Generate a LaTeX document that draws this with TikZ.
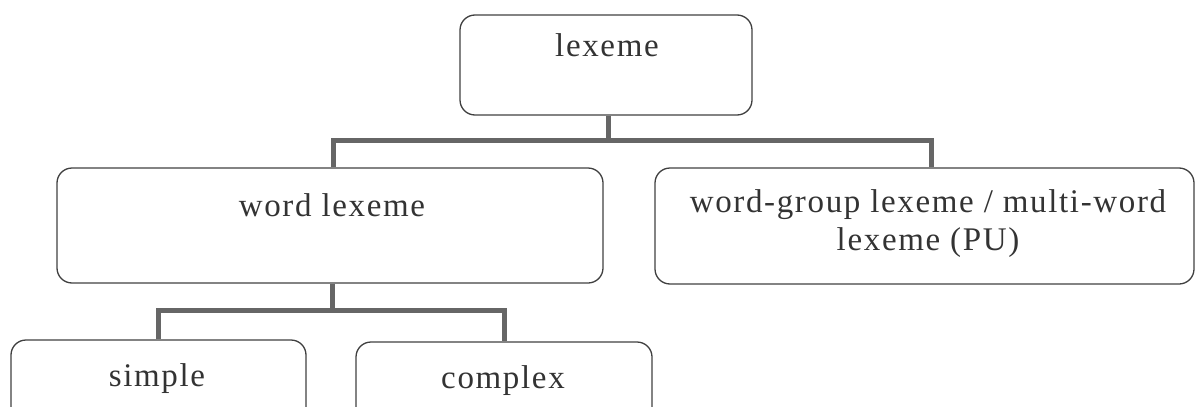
\documentclass[tikz,border=0pt]{standalone}
\usepackage{fontspec}
\setmainfont{Liberation Serif}[LetterSpace=5]
\begin{document}
\begin{tikzpicture}[x=1pt,y=-1pt,
  box/.style={draw=black!75, line width=1.3pt, rounded corners=15pt, inner sep=0pt},
  lbl/.style={inner sep=0pt, font=\fontsize{33}{40}\selectfont, text=black!80, align=center},
  conn/.style={draw=black!60, line width=5pt}]
\useasboundingbox (0,0) rectangle (1197,407);
\clip (0,0) rectangle (1197,407);
\node[box, minimum width=292pt, minimum height=100pt] (lex) at (606,65) {};
\node[box, minimum width=546pt, minimum height=115pt] (word) at (330,225.5) {};
\node[box, minimum width=539pt, minimum height=116pt] (wg) at (924.5,226) {};
\node[box, minimum width=295pt, minimum height=100pt] (simple) at (158.5,390) {};
\node[box, minimum width=296pt, minimum height=100pt] (complex) at (504,392) {};
\node[lbl] (tlex) at (607,45) {lexeme};
\node[lbl] (tword) at (332,205) {word lexeme};
\node[lbl] (twg) at (928,224) {word-group lexeme / multi-word\\[-2pt]lexeme (PU)};
\node[lbl] (tsimple) at (157,379) {simple};
\node[lbl] (tcomplex) at (503,381) {complex};
\coordinate (b1) at (608,140);
\coordinate (b2) at (332,310);
\draw[conn] (lex.south -| b1) -- (b1);
\draw[conn] ([xshift=3pt]word.north) |- (b1) -| ([xshift=7pt]wg.north);
\draw[conn] (word.south -| b2) -- (b2);
\draw[conn] (simple.north) |- (b2) -| (complex.north);
\end{tikzpicture}
\end{document}
